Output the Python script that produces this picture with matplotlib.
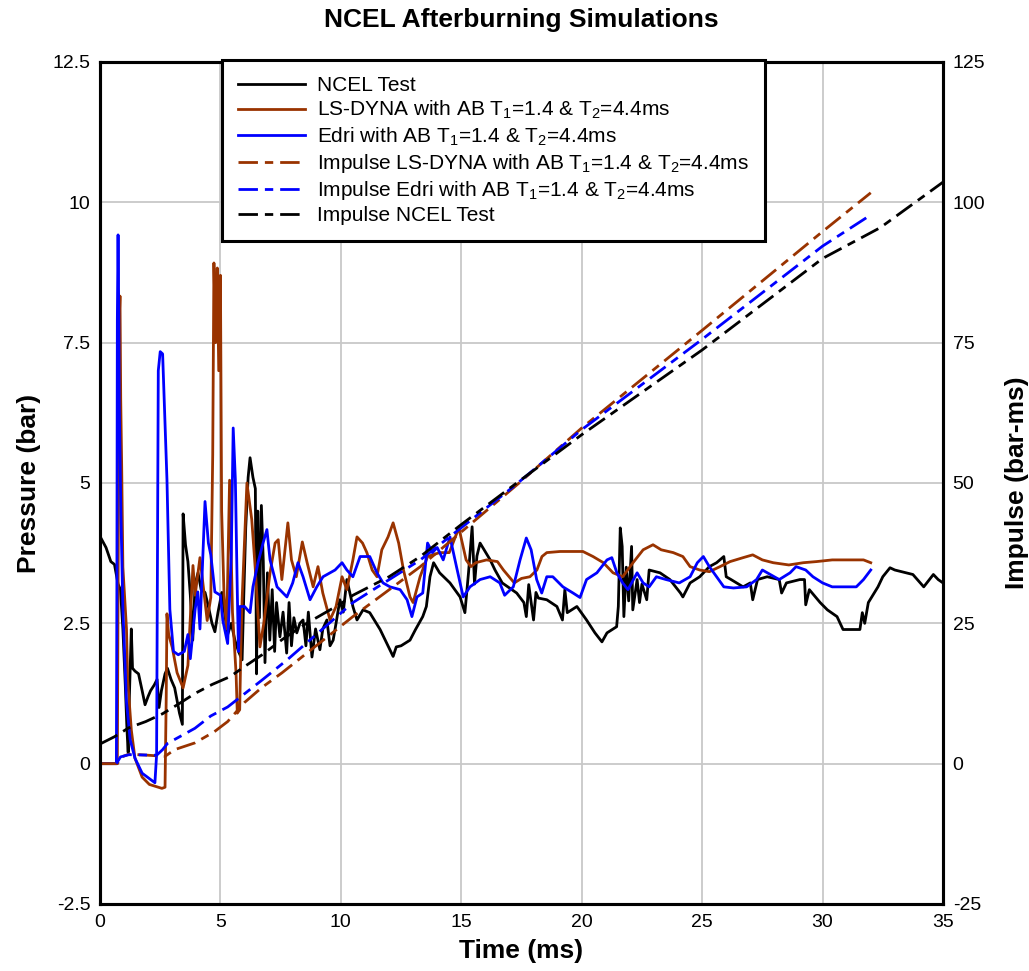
import matplotlib
matplotlib.use("Agg")
import matplotlib.pyplot as plt

plt.rcParams['font.family'] = ['Liberation Sans', 'DejaVu Sans']
plt.rcParams['mathtext.fontset'] = 'custom'
plt.rcParams['mathtext.rm'] = 'Liberation Sans'
plt.rcParams['mathtext.it'] = 'Liberation Sans'
plt.rcParams['axes.unicode_minus'] = False

# pressure traces (bar) vs time (ms)
ncel_t = [0, 0.25, 0.45, 0.6, 0.75, 0.85, 0.95, 1.05, 1.12, 1.17, 1.22, 1.3,
          1.35, 1.45, 1.6, 1.75, 1.87, 2.0, 2.1, 2.25, 2.37, 2.45, 2.55, 2.7,
          2.8, 2.95, 3.1, 3.3, 3.42, 3.45, 3.55, 3.65, 3.75, 3.85, 3.95, 4.07,
          4.2, 4.36, 4.5, 4.65, 4.77, 4.9, 5.06, 5.2, 5.3, 5.45, 5.6, 5.75,
          5.9, 5.97, 6.05, 6.15, 6.23, 6.35, 6.45, 6.5, 6.55, 6.62, 6.7, 6.78,
          6.85, 6.95, 7.05, 7.15, 7.25, 7.33, 7.47, 7.6, 7.75, 7.85, 7.95,
          8.05, 8.17, 8.3, 8.43, 8.55, 8.65, 8.8, 8.95, 9.13, 9.25, 9.42,
          9.55, 9.68, 9.8, 9.96, 10.1, 10.25, 10.5, 10.67, 10.92, 11.2, 11.4,
          11.63, 11.9, 12.17, 12.3, 12.5, 12.87, 13.1, 13.4, 13.55, 13.7,
          13.85, 14.1, 14.53, 14.95, 15.15, 15.3, 15.45, 15.55, 15.65, 15.78,
          16.2, 16.4, 16.7, 17.3, 17.6, 17.7, 17.8, 18.0, 18.1, 18.2, 18.55,
          18.97, 19.2, 19.3, 19.4, 19.8, 20.2, 20.55, 20.84, 21.05, 21.45,
          21.52, 21.6, 21.68, 21.75, 21.85, 21.95, 22.07, 22.12, 22.3, 22.4,
          22.5, 22.7, 22.8, 23.25, 23.66, 24.1, 24.2, 24.5, 24.9, 25.3, 25.6,
          25.9, 26.0, 26.2, 26.7, 27.0, 27.1, 27.3, 27.7, 28.2, 28.3, 28.5,
          29.06, 29.25, 29.3, 29.45, 29.9, 30.2, 30.6, 30.85, 31.55, 31.65,
          31.75, 31.9, 32.3, 32.5, 32.8, 33.0, 33.75, 34.2, 34.6, 34.8, 35.0]
ncel_p = [4.05, 3.85, 3.6, 3.55, 3.2, 3.1, 2.4, 1.4, 0.6, 0.2, 1.2, 2.4,
          1.7, 1.65, 1.6, 1.3, 1.05, 1.2, 1.3, 1.4, 1.5, 1.0, 1.3, 1.6,
          1.7, 1.5, 1.35, 0.9, 0.7, 4.45, 3.9, 3.6, 3.0, 2.2, 3.2, 3.4,
          3.1, 3.05, 2.8, 2.5, 2.35, 2.7, 3.05, 2.6, 2.3, 2.5, 2.2, 2.0,
          1.85, 3.0, 4.2, 5.1, 5.45, 5.1, 4.9, 1.6, 4.5, 2.6, 4.6, 3.6,
          1.8, 3.4, 2.2, 3.1, 2.0, 2.87, 2.26, 2.7, 1.97, 2.87, 2.1,
          2.6, 2.33, 2.5, 2.56, 2.1, 2.7, 1.9, 2.4, 2.03, 2.4, 2.56,
          2.1, 2.2, 2.5, 2.92, 2.7, 3.28, 2.8, 2.56, 2.74, 2.69, 2.55,
          2.39, 2.15, 1.91, 2.08, 2.1, 2.2, 2.39, 2.62, 2.8, 3.33,
          3.58, 3.4, 3.22, 2.97, 2.69, 3.4, 4.22, 3.2, 3.7, 3.93,
          3.63, 3.45, 3.22, 3.04, 2.87, 2.62, 3.19, 2.56, 3.05, 2.95, 2.92,
          2.8, 2.56, 3.1, 2.69, 2.8, 2.56, 2.33, 2.17, 2.33, 2.44,
          2.8, 4.2, 3.87, 2.62, 3.5, 2.9, 3.87, 2.74, 3.28, 2.87,
          3.2, 2.92, 3.45, 3.4, 3.28, 3.04, 2.97, 3.22, 3.33, 3.51, 3.58,
          3.69, 3.33, 3.28, 3.15, 3.22, 2.92, 3.28, 3.33, 3.28, 3.04, 3.22,
          3.28, 3.28, 2.83, 3.1, 2.87, 2.74, 2.62, 2.39, 2.39, 2.69,
          2.5, 2.87, 3.15, 3.33, 3.49, 3.45, 3.37, 3.15, 3.37, 3.28, 3.22]

lsdyna_t = [0, 0.72, 0.76, 0.8, 0.83, 0.86, 0.9, 0.95, 1.1, 1.15, 1.3, 1.45,
            1.75, 2.05, 2.57, 2.7, 2.75, 2.78, 2.85, 3.0, 3.2, 3.45, 3.65,
            3.86, 3.95, 4.15, 4.45, 4.6, 4.68, 4.73, 4.8, 4.87, 4.93, 5.0,
            5.05, 5.15, 5.26, 5.38, 5.5, 5.65, 5.7, 5.8, 5.85, 5.9, 6.1,
            6.3, 6.45, 6.64, 6.8, 7.06, 7.27, 7.4, 7.55, 7.8, 7.95, 8.15,
            8.4, 8.6, 8.85, 9.05, 9.25, 9.55, 9.8, 10.05, 10.25, 10.5,
            10.67, 10.9, 11.08, 11.3, 11.5, 11.7, 11.96, 12.17, 12.4, 12.6,
            12.87, 13.0, 13.29, 13.6, 14.1, 14.5, 14.9, 15.2, 15.4, 15.6,
            16.05, 16.5, 16.75, 17.2, 17.5, 17.85, 18.14, 18.35, 18.55,
            19.1, 19.6, 20.05, 20.47, 20.9, 21.3, 21.7, 22.13, 22.55, 22.96,
            23.3, 23.8, 24.2, 24.5, 24.9, 25.3, 25.74, 26.16, 26.7, 27.1,
            27.5, 27.95, 28.6, 29.2, 29.75, 30.4, 31.0, 31.7, 32.0]
lsdyna_p = [0, 0, 4.0, 7.9, 8.33, 6.5, 5.3, 3.5, 2.4, 1.48, 0.6, 0.1,
            -0.24, -0.37, -0.44, -0.42, 1.2, 2.67, 2.3, 2.07, 1.62, 1.35, 1.75,
            3.53, 3.0, 3.67, 2.55, 2.96, 5.5, 8.92, 7.5, 8.83, 7.0, 8.7,
            4.5, 3.0, 2.4, 5.05, 2.7, 1.6, 0.9, 0.96, 2.1, 2.92, 5.0,
            4.35, 3.45, 2.08, 2.5, 3.4, 3.93, 3.99, 3.28, 4.29, 3.63, 3.33,
            3.95, 3.58, 3.15, 3.51, 3.04, 2.56, 2.8, 3.33, 3.1, 3.63,
            4.04, 3.93, 3.76, 3.45, 3.33, 3.81, 4.04, 4.29, 3.93, 3.45,
            2.97, 2.87, 3.33, 3.69, 3.76, 3.76, 4.2, 3.63, 3.51, 3.58,
            3.63, 3.6, 3.45, 3.22, 3.3, 3.33, 3.45, 3.69, 3.76,
            3.78, 3.78, 3.78, 3.69, 3.58, 3.4, 3.33, 3.58, 3.81, 3.9,
            3.81, 3.76, 3.69, 3.51, 3.45, 3.42, 3.51, 3.6, 3.67, 3.72,
            3.63, 3.58, 3.54, 3.58, 3.6, 3.63, 3.63, 3.63, 3.58]

edri_t = [0, 0.68, 0.7, 0.72, 0.75, 0.78, 0.8, 0.87, 0.95, 1.1, 1.25, 1.45,
          1.75, 2.0, 2.28, 2.35, 2.42, 2.5, 2.6, 2.7, 2.78, 2.9, 3.05, 3.25,
          3.5, 3.65, 3.75, 3.95, 4.06, 4.15, 4.36, 4.5, 4.6, 4.77, 5.0, 5.1,
          5.3, 5.45, 5.53, 5.62, 5.7, 5.75, 5.81, 6.0, 6.23, 6.35, 6.56,
          6.77, 6.93, 7.06, 7.35, 7.76, 8.0, 8.22, 8.43, 8.72, 9.0, 9.26,
          9.55, 9.76, 10.05, 10.25, 10.5, 10.8, 11.2, 11.5, 11.75, 12.04,
          12.46, 12.75, 12.95, 13.16, 13.4, 13.6, 13.8, 14.0, 14.25, 14.53,
          14.8, 15.08, 15.36, 15.78, 16.2, 16.6, 16.8, 17.16, 17.44, 17.7,
          17.9, 18.13, 18.34, 18.55, 18.8, 19.22, 19.64, 19.93, 20.2, 20.63,
          21.05, 21.25, 21.46, 21.7, 21.92, 22.3, 22.55, 22.8, 23.1, 23.5,
          24.05, 24.5, 24.8, 25.05, 25.3, 25.6, 25.9, 26.3, 26.85, 27.26,
          27.5, 28.2, 28.65, 28.9, 29.3, 29.6, 30.0, 30.4, 31.0, 31.4, 31.7,
          32.0]
edri_p = [0, 0, 3.0, 7.9, 9.42, 8.0, 6.4, 4.4, 2.75, 1.1, 0.43, 0.1,
          -0.17, -0.25, -0.34, 0.16, 7.0, 7.34, 7.3, 6.05, 5.06, 2.75, 2.0, 1.94,
          2.0, 2.3, 1.87, 2.75, 3.06, 2.4, 4.67, 3.93, 3.72, 3.06, 3.0, 2.55,
          2.14, 3.72, 5.98, 5.06, 3.06, 2.0, 2.8, 2.8, 2.69, 3.15, 3.58,
          3.93, 4.17, 3.63, 3.15, 2.97, 3.22, 3.58, 3.33, 2.92, 3.15, 3.33,
          3.4, 3.45, 3.58, 3.45, 3.33, 3.69, 3.69, 3.4, 3.22, 3.15,
          3.1, 2.92, 2.62, 2.97, 3.04, 3.93, 3.76, 3.85, 3.63, 4.04,
          3.51, 2.97, 3.15, 3.28, 3.33, 3.22, 3.0, 3.15, 3.63, 4.02,
          3.81, 3.28, 3.04, 3.33, 3.33, 3.15, 3.04, 2.96, 3.28, 3.4,
          3.63, 3.67, 3.4, 3.22, 3.1, 3.4, 3.22, 3.15, 3.33, 3.28,
          3.22, 3.33, 3.58, 3.69, 3.51, 3.33, 3.15, 3.13, 3.15, 3.28,
          3.45, 3.28, 3.4, 3.51, 3.45, 3.33, 3.22, 3.15, 3.15, 3.15, 3.28,
          3.45]

# impulse traces (bar-ms), right axis
imp_lsdyna_t = [0, 0.72, 0.9, 1.2, 2.0, 2.7, 3.1, 3.94, 4.75, 5.3, 6.0, 6.7,
                7.56, 10.5, 13.3, 17.4, 20, 25, 30, 32]
imp_lsdyna = [0, 0, 1.2, 1.7, 1.5, 1.3, 2.5, 3.7, 5.7, 7.5, 10.9, 13.5,
              16.2, 26.2, 35.1, 50, 59.8, 77.2, 94.8, 101.7]
imp_edri_t = [0.68, 0.85, 1.2, 2.35, 2.6, 2.8, 3.94, 4.6, 5.3, 6.7, 7.8,
              10.5, 13.3, 17.15, 20, 25, 30, 31.8, 32]
imp_edri = [0, 1.2, 1.6, 1.5, 2.5, 3.6, 6.3, 8.5, 10.1, 14.8, 18.6,
            28.7, 36.3, 49.3, 59.5, 75.6, 92.2, 97.2, 97.8]
imp_ncel_t = [0, 0.6, 1.2, 1.9, 2.6, 3.25, 3.94, 4.65, 5.4, 6.0, 6.73, 7.56,
              8.5, 10.0, 10.5, 12.0, 13.3, 15.0, 17.3, 20, 25, 30, 32.4, 35]
imp_ncel = [3.5, 4.8, 6.4, 7.5, 8.9, 10.6, 12.5, 14.1, 15.5, 17.3, 19.4, 22.1,
            24.8, 28.5, 30.0, 33.3, 36.9, 42.6, 50, 58.6, 73.7, 90, 95.5, 103.6]

BROWN = '#993300'
BLUE = '#0000ff'
DASH = (0, (7, 2.5, 3, 2.5))

fig = plt.figure(figsize=(10.29, 9.71), dpi=100)
ax = fig.add_axes([100 / 1029, 1 - 904 / 971, 843 / 1029, 842 / 971])
ax2 = ax.twinx()

ax.grid(True, color='#c8c8c8', linewidth=1.3)
ax.set_axisbelow(True)

l1, = ax.plot(ncel_t, ncel_p, color='black', lw=2.0, label='NCEL Test')
l2, = ax.plot(lsdyna_t, lsdyna_p, color=BROWN, lw=2.0,
              label='LS-DYNA with AB T$_1$=1.4 & T$_2$=4.4ms')
l3, = ax.plot(edri_t, edri_p, color=BLUE, lw=2.0,
              label='Edri with AB T$_1$=1.4 & T$_2$=4.4ms')
l4, = ax2.plot(imp_lsdyna_t, imp_lsdyna, color=BROWN, lw=2.0, ls=DASH,
               label='Impulse LS-DYNA with AB T$_1$=1.4 & T$_2$=4.4ms')
l5, = ax2.plot(imp_edri_t, imp_edri, color=BLUE, lw=2.0, ls=DASH,
               label='Impulse Edri with AB T$_1$=1.4 & T$_2$=4.4ms')
l6, = ax2.plot(imp_ncel_t, imp_ncel, color='black', lw=2.0, ls=DASH,
               label='Impulse NCEL Test')

ax.set_xlim(0, 35)
ax.set_ylim(-2.5, 12.5)
ax2.set_ylim(-25, 125)
ax.set_xticks(range(0, 36, 5))
ax.set_yticks([-2.5, 0, 2.5, 5, 7.5, 10, 12.5])
ax.set_yticklabels(['-2.5', '0', '2.5', '5', '7.5', '10', '12.5'])
ax2.set_yticks([-25, 0, 25, 50, 75, 100, 125])

ax.tick_params(length=0, pad=7, labelsize=14)
ax2.tick_params(length=0, pad=7, labelsize=14)
for a in (ax, ax2):
    for s in a.spines.values():
        s.set_linewidth(2.2)

ax.set_xlabel('Time (ms)', fontsize=19, fontweight='bold', labelpad=6)
ax.set_ylabel('Pressure (bar)', fontsize=19, fontweight='bold', labelpad=8)
ax2.set_ylabel('Impulse (bar-ms)', fontsize=19, fontweight='bold',
               rotation=90, labelpad=14)
ax.set_title('NCEL Afterburning Simulations', fontsize=19, fontweight='bold',
             pad=25)

leg = ax2.legend(handles=[l1, l2, l3, l4, l5, l6], loc='upper left',
                 bbox_to_anchor=(0.145, 1.002), borderaxespad=0,
                 fontsize=15, handlelength=3.2, handletextpad=0.6,
                 labelspacing=0.2, borderpad=0.75, fancybox=False,
                 framealpha=1, edgecolor='black')
leg.get_frame().set_linewidth(2.2)

fig.savefig('out.png', dpi=100)
